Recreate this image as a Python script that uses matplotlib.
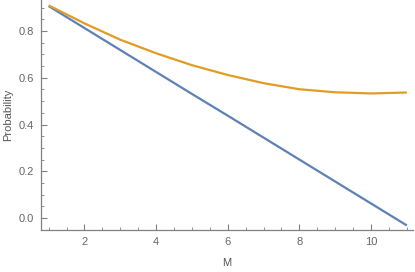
import matplotlib
matplotlib.use('Agg')
import matplotlib.pyplot as plt
from matplotlib.ticker import MultipleLocator

plt.rcParams['font.family'] = ['Liberation Sans', 'DejaVu Sans']

# Data
m_values = [1, 2, 3, 4, 5, 6, 7, 8, 9, 10, 11]
prob_linear = [0.907, 0.813, 0.719, 0.625, 0.531, 0.438, 0.344, 0.250, 0.156, 0.062, -0.032]
prob_curve = [0.910, 0.833, 0.763, 0.705, 0.654, 0.612, 0.577, 0.551, 0.538, 0.533, 0.537]

blue = '#5E81B5'
orange = '#E19C24'
gray = '#808080'

fig = plt.figure(figsize=(4.15, 2.72), dpi=100)
ax = fig.add_axes([0.099, 0.154, 0.896, 0.846])

ax.plot(m_values, prob_linear, color=blue, lw=1.6, solid_capstyle='butt')
ax.plot(m_values, prob_curve, color=orange, lw=1.6, solid_capstyle='butt')

ax.set_xlim(0.79, 11.17)
ax.set_ylim(-0.052, 0.933)

ax.xaxis.set_major_locator(MultipleLocator(2))
ax.xaxis.set_minor_locator(MultipleLocator(0.5))
ax.yaxis.set_major_locator(MultipleLocator(0.2))
ax.yaxis.set_minor_locator(MultipleLocator(0.05))
ax.yaxis.set_major_formatter(plt.FuncFormatter(lambda v, p: f'{v:.1f}'))

for side in ['top', 'right']:
    ax.spines[side].set_visible(False)
for side in ['left', 'bottom']:
    ax.spines[side].set_color(gray)
    ax.spines[side].set_linewidth(0.9)

ax.tick_params(which='major', direction='in', length=4, width=0.8, color=gray,
               labelcolor='#666666', labelsize=8, pad=5)
ax.tick_params(which='minor', direction='in', length=2.2, width=0.6, color=gray)

ax.set_xlabel('M', color='#555555', fontsize=8, labelpad=8)
ax.set_ylabel('Probability', color='#555555', fontsize=8, labelpad=4)

fig.savefig('out.png', dpi=100)
